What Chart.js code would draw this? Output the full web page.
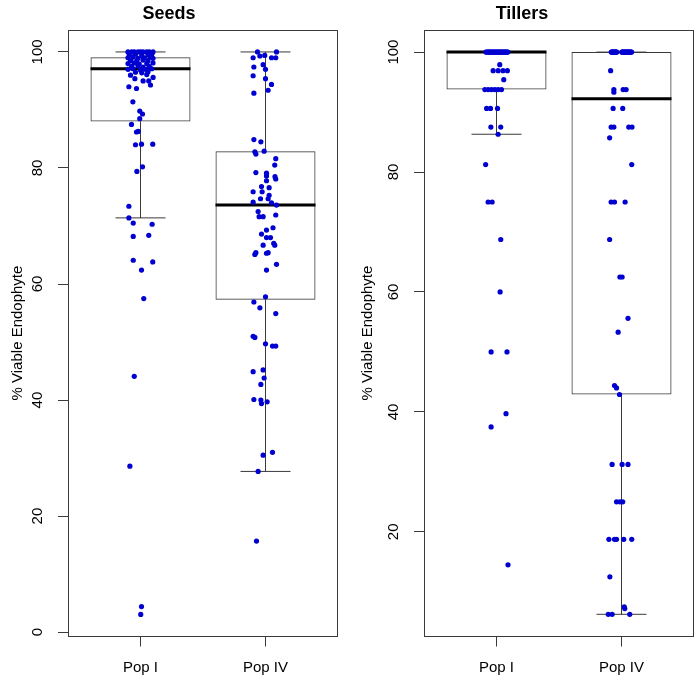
<!DOCTYPE html>
<html>
<head>
<meta charset="utf-8">
<script src="https://cdn.jsdelivr.net/npm/chart.js@4"></script>
<style>
  body { margin: 0; background: #fff; }
  .panel { position: absolute; top: 0; width: 350px; height: 679px; }
</style>
</head>
<body>
<div class="panel" style="left:0"><canvas id="seeds" width="350" height="679"></canvas></div>
<div class="panel" style="left:350px"><canvas id="tillers" width="350" height="679"></canvas></div>
<script>
const groups = ['Pop I', 'Pop IV']

// box statistics
const seedsLow = [71.4, 27.7]
const seedsQ1 = [88.0, 57.3]
const seedsMed = [97.1, 73.6]
const seedsQ3 = [99.1, 82.9]
const seedsHigh = [100, 100]

const tillersLow = [86.3, 6.25]
const tillersQ1 = [93.75, 42.9]
const tillersMed = [100, 92.2]
const tillersQ3 = [100, 100]
const tillersHigh = [100, 100]

const seedsYTicks = [0, 20, 40, 60, 80, 100]
const tillersYTicks = [20, 40, 60, 80, 100]

// jittered points: [x position, value]
const seedsPopI = [
  [0.90,100],[0.93,100],[0.95,100],[0.98,100],[1.00,100],[1.02,100],[1.05,100],[1.07,100],[1.10,100],
  [0.91,99.5],[0.96,99.6],[1.01,99.4],[1.06,99.5],[1.09,99.6],
  [0.90,99.0],[0.94,99.1],[0.98,98.9],[1.03,99.0],[1.08,99.1],[1.10,98.9],
  [0.92,98.5],[0.97,98.4],[1.02,98.6],[1.06,98.5],
  [0.90,98.0],[0.95,98.1],[0.99,97.9],[1.05,98.0],[1.10,98.1],
  [0.93,97.5],[0.98,97.6],[1.02,97.4],[1.07,97.5],
  [0.90,97.0],[0.94,97.1],[1.00,96.9],[1.04,97.0],[1.09,97.1],
  [0.96,96.5],[1.01,96.4],[1.06,96.6],[0.92,96.0],[1.05,96.1],
  [0.907,94.0],[0.968,93.7],[1.080,94.3],[0.955,95.4],[1.021,95.0],[1.066,95.0],[1.101,95.6],
  [0.939,91.4],[0.994,89.8],[1.016,89.3],[0.994,88.5],[0.928,87.5],[0.982,86.3],[0.968,86.2],
  [0.960,84.0],[1.008,84.1],[1.098,84.1],[1.016,80.2],[0.971,79.4],
  [0.907,73.4],[0.907,71.4],[0.942,70.5],[1.093,70.3],[0.942,68.2],[1.066,68.4],
  [0.942,64.1],[1.098,63.8],[1.008,62.4],[1.026,57.5],[0.950,44.1],[0.915,28.6],[1.008,4.4],[1.002,3.05]
]
const seedsPopIV = [
  [1.936,100],[2.088,100],[1.901,99.0],[1.955,99.3],[1.994,99.4],[2.048,99.0],[2.082,99.0],
  [1.907,97.4],[1.981,97.8],[2.000,97.0],[1.901,95.9],[2.000,95.4],[2.048,94.4],[2.021,93.4],[1.907,92.9],
  [1.907,84.9],[1.963,84.5],[1.915,82.8],[1.989,82.9],[1.923,82.4],[2.082,81.6],[2.074,80.5],
  [1.923,79.2],[2.008,79.1],[2.008,78.6],[2.076,78.5],[2.082,78.1],[2.008,77.8],[1.968,76.8],[2.029,76.6],
  [1.901,75.9],[1.973,75.9],[2.029,75.3],[1.960,74.7],[2.021,74.7],[1.901,74.1],[2.048,74.0],[2.088,73.6],
  [1.941,72.5],[1.949,71.6],[1.981,71.6],[2.082,71.9],[2.060,69.7],[2.008,69.3],[1.968,68.6],
  [2.008,68.0],[2.040,68.0],[2.066,67.0],[2.074,66.7],[1.981,66.7],[1.915,65.1],[1.923,65.4],
  [2.008,65.3],[2.021,65.4],[2.088,63.4],[2.008,62.4],[2.000,57.8],[1.907,56.9],[1.955,55.9],[2.082,54.9],
  [1.901,51.0],[1.915,50.8],[2.000,49.7],[2.056,49.3],[2.082,49.3],[1.901,44.9],[1.981,45.2],[1.989,43.8],
  [1.963,42.7],[1.907,40.1],[1.963,40.0],[1.968,39.4],[2.013,39.7],[2.056,31.0],[1.981,30.5],[1.941,27.7],
  [1.928,15.7]
]
const tillersPopI = [
  [0.915,100],[0.921,100],[0.929,100],[0.934,100],[0.942,100],[0.947,100],[0.953,100],[0.960,100],
  [0.966,100],[0.971,100],[0.978,100],[0.984,100],[0.989,100],[0.996,100],[1.002,100],[1.007,100],
  [1.013,100],[1.020,100],[1.026,100],[1.031,100],[1.037,100],[1.044,100],[1.050,100],[1.055,100],
  [1.061,100],[1.068,100],[1.073,100],[1.079,100],[1.085,100],[1.091,100],
  [1.026,97.9],[0.973,96.9],[1.013,96.9],[1.052,96.9],[1.087,96.9],[1.058,95.4],
  [0.907,93.75],[0.933,93.75],[0.960,93.75],[0.987,93.75],[1.013,93.75],[1.040,93.75],
  [0.921,90.6],[0.952,90.6],[1.008,90.6],[0.955,87.5],[1.034,87.5],[1.013,86.3],[0.913,81.25],
  [0.933,75],[0.965,75],[1.034,68.75],[1.029,60],[0.957,50],[1.084,50],[1.076,39.7],[0.957,37.5],[1.092,14.5]
]
const tillersPopIV = [
  [1.918,100],[1.922,100],[1.926,100],[1.930,100],[1.934,100],[1.938,100],[1.942,100],[1.946,100],
  [1.950,100],[1.954,100],[1.958,100],[1.963,100],
  [2.002,100],[2.006,100],[2.011,100],[2.015,100],[2.019,100],[2.024,100],[2.028,100],[2.032,100],
  [2.037,100],[2.041,100],[2.046,100],[2.050,100],[2.054,100],[2.059,100],[2.063,100],[2.067,100],
  [2.072,100],[2.076,100],[2.081,100],
  [1.913,96.9],[1.939,93.75],[1.939,93.3],[2.013,93.75],[2.037,93.75],[1.933,90.6],[2.010,90.6],
  [1.917,87.5],[1.939,87.5],[2.058,87.5],[2.084,87.5],[1.905,85.7],[2.082,81.25],
  [1.917,75],[1.944,75],[2.029,75],[1.905,68.75],[1.987,62.5],[2.005,62.5],[2.052,55.6],[1.973,53.3],
  [1.944,44.4],[1.960,44.0],[1.984,42.9],
  [1.925,31.25],[2.005,31.25],[2.052,31.25],[1.960,25],[1.987,25],[2.010,25],
  [1.899,18.75],[1.944,18.75],[1.960,18.75],[2.018,18.75],[2.082,18.75],[1.907,12.5],
  [2.022,7.5],[2.026,7.2],[1.894,6.25],[1.925,6.25],[2.066,6.25]
]

const FONT = "'Liberation Sans', Arial, sans-serif"
const BOX_HALF = 0.4
const CAP_HALF = 0.2
const LINE = '#3a3a3a'

const frame = {
  id: 'frame',
  afterDatasetsDraw(chart) {
    const { ctx, chartArea: a } = chart
    ctx.save()
    ctx.strokeStyle = LINE
    ctx.lineWidth = 1
    ctx.strokeRect(Math.round(a.left) + 0.5, Math.round(a.top) + 0.5,
      Math.round(a.right) - Math.round(a.left) - 1, Math.round(a.bottom) - Math.round(a.top) - 1)
    ctx.restore()
  }
}

function makePanel(id, title, points, low, q1, med, q3, high, yMin, yMax, yTicks, yWidth, rightPad, tickPad) {
  const whiskers = [], caps = [], medians = []
  groups.forEach((g, i) => {
    const c = i + 1
    whiskers.push({ x: c, y: q3[i] }, { x: c, y: high[i] }, { x: c, y: null },
                  { x: c, y: q1[i] }, { x: c, y: low[i] }, { x: c, y: null })
    caps.push({ x: c - CAP_HALF, y: high[i] }, { x: c + CAP_HALF, y: high[i] }, { x: c, y: null },
              { x: c - CAP_HALF, y: low[i] }, { x: c + CAP_HALF, y: low[i] }, { x: c, y: null })
    medians.push({ x: c - BOX_HALF, y: med[i] }, { x: c + BOX_HALF, y: med[i] }, { x: c, y: null })
  })
  const boxes = groups.map((g, i) => ({ x: i + 1, y: [q1[i], q3[i]] }))
  const pts = points.flat().map(p => ({ x: p[0], y: p[1] }))

  const lineSet = (data, width, color) => ({
    type: 'line', data, borderColor: color, borderWidth: width, pointRadius: 0,
    spanGaps: false, fill: false, order: 1
  })

  new Chart(document.getElementById(id), {
    type: 'scatter',
    data: {
      datasets: [
        { type: 'scatter', data: pts, backgroundColor: '#0000d0', borderWidth: 0, pointRadius: 2.6, order: 0 },
        lineSet(medians, 3, '#000'),
        lineSet(whiskers, 1, LINE),
        lineSet(caps, 1, LINE),
        {
          type: 'bar', data: boxes, backgroundColor: 'rgba(0,0,0,0)', borderColor: LINE,
          borderWidth: 1, borderSkipped: false, barPercentage: 0.8, categoryPercentage: 1, order: 2
        }
      ]
    },
    options: {
      responsive: false,
      animation: false,
      events: [],
      layout: { padding: { top: 0, right: rightPad, bottom: 0, left: 0 } },
      plugins: {
        legend: { display: false },
        tooltip: { enabled: false },
        title: {
          display: true, text: title, color: '#000',
          font: { family: FONT, size: 18, weight: 'bold' },
          padding: { top: 3, bottom: 5 }
        }
      },
      scales: {
        x: {
          type: 'linear', min: 0.42, max: 2.58, offset: false,
          afterBuildTicks: s => { s.ticks = groups.map((g, i) => ({ value: i + 1 })) },
          afterFit: s => { s.height = 42.5 },
          ticks: { callback: v => groups[v - 1], color: '#000', font: { family: FONT, size: 15 }, padding: 12, maxRotation: 0 },
          grid: { drawOnChartArea: false, offset: false, tickLength: 10, color: LINE },
          border: { display: false }
        },
        y: {
          min: yMin, max: yMax,
          afterBuildTicks: s => { s.ticks = yTicks.map(v => ({ value: v })) },
          afterFit: s => { s.width = yWidth },
          ticks: {
            color: '#000', font: { family: FONT, size: 15 }, minRotation: 90, maxRotation: 90,
            crossAlign: 'center', padding: tickPad
          },
          grid: { drawOnChartArea: false, tickLength: 10, color: LINE },
          border: { display: false },
          title: {
            display: true, text: '% Viable Endophyte', color: '#000',
            font: { family: FONT, size: 15 }, padding: { top: 9, bottom: 0 }
          }
        }
      }
    },
    plugins: [frame]
  })
}

makePanel('seeds', 'Seeds', [seedsPopI, seedsPopIV], seedsLow, seedsQ1, seedsMed, seedsQ3, seedsHigh,
  -0.75, 103.85, seedsYTicks, 68, 12, 7.5)
makePanel('tillers', 'Tillers', [tillersPopI, tillersPopIV], tillersLow, tillersQ1, tillersMed, tillersQ3, tillersHigh,
  2.55, 103.75, tillersYTicks, 74, 6, 8)
</script>
</body>
</html>
